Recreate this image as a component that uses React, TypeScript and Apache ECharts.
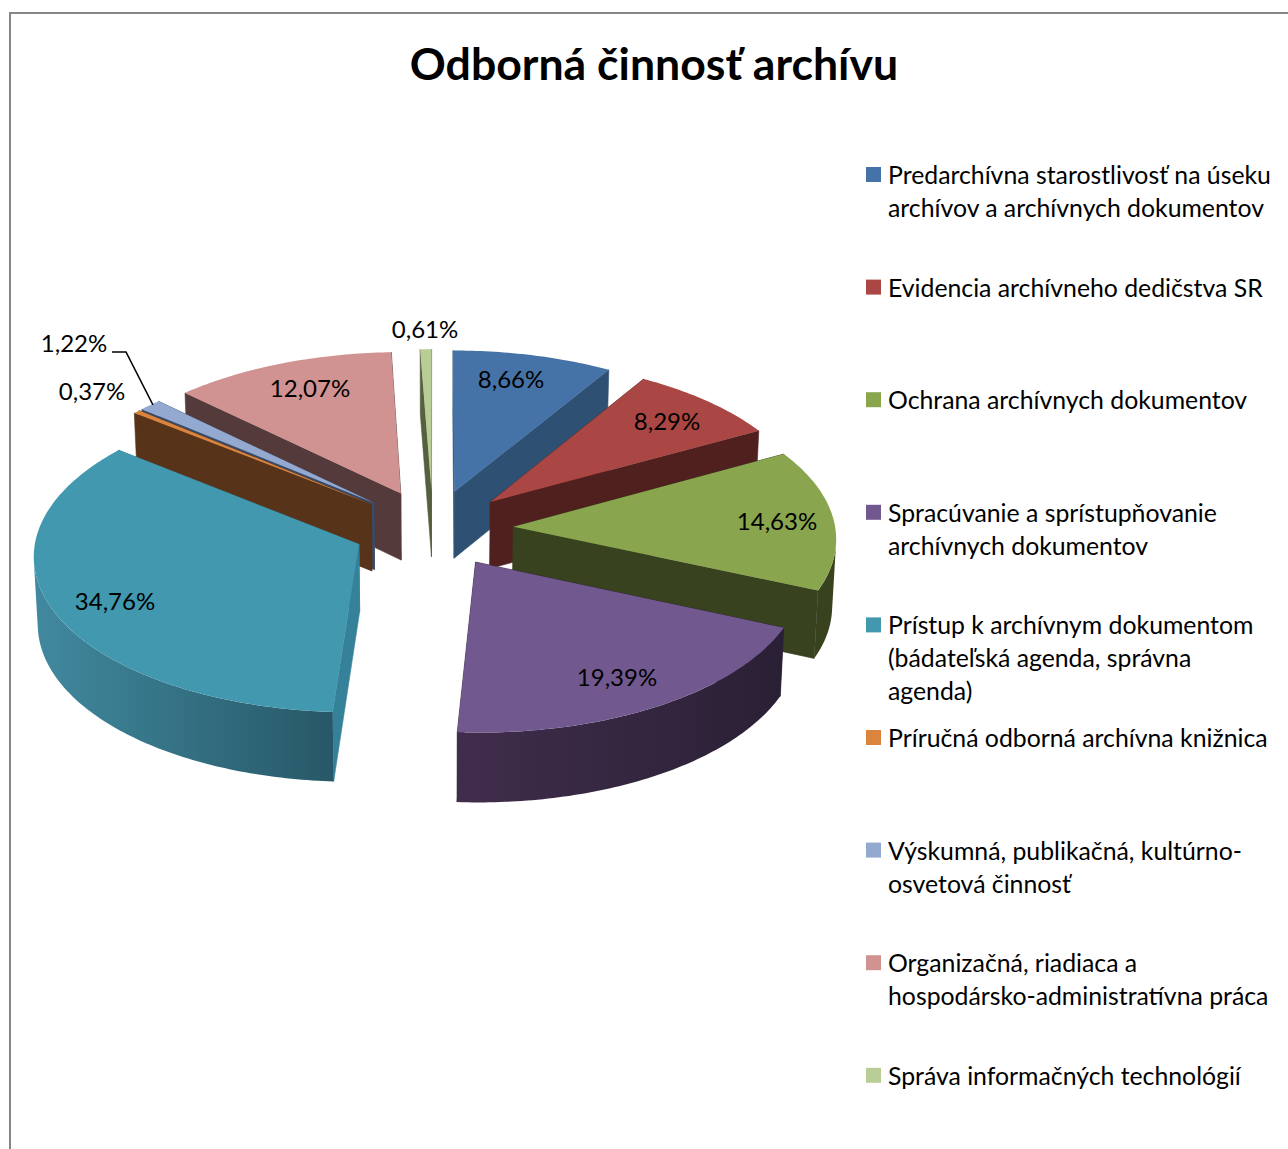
import React, { useEffect, useRef } from "react";
import * as echarts from "echarts";

const TITLE = "Odborná činnosť archívu";
const CATEGORIES = [
  "Predarchívna starostlivosť na úseku\narchívov a archívnych dokumentov",
  "Evidencia archívneho dedičstva SR",
  "Ochrana archívnych dokumentov",
  "Spracúvanie a sprístupňovanie\narchívnych dokumentov",
  "Prístup k archívnym dokumentom\n(bádateľská agenda, správna\nagenda)",
  "Príručná odborná archívna knižnica",
  "Výskumná, publikačná, kultúrno-\nosvetová činnosť",
  "Organizačná, riadiaca a\nhospodársko-administratívna práca",
  "Správa informačných technológií",
];
const SHARES = [8.66, 8.29, 14.63, 19.39, 34.76, 0.37, 1.22, 12.07, 0.61];

const TOP_COLORS = ["#4572A7", "#AA4643", "#89A54E", "#71588F", "#4198AF", "#DB843D", "#93A9CF", "#D19392", "#B9CD96"];
const CUT_COLORS = ["#2E5073", "#50201E", "#38421E", "#2E2339", "#36819A", "#57331A", "#3A4B68", "#543A3B", "#56603F"];
const WALL_LEFT = ["#2E5073", "#50201E", "#38421E", "#402D4C", "#41899F", "#57331A", "#3A4B68", "#543A3B", "#56603F"];
const WALL_RIGHT = ["#2E5073", "#50201E", "#38421E", "#2A2035", "#275867", "#57331A", "#3A4B68", "#543A3B", "#56603F"];
const LABEL_CENTERS = [[511, 378], [667, 420], [777, 520], [617, 676], [115, 600], [92, 390], [74, 342], [310, 387], [425, 328]];

const FONT = "Lato";
const CX = 433, CY = 528.5, RX = 322, RY = 155, PERSP = 0.0648, EXPLODE = 0.25, DEPTH = 67;
const LEGEND_Y0 = 174.5, LEGEND_STEP = 112.6, LINE_H = 33;

const starts: number[] = [];
SHARES.reduce((acc, s, i) => ((starts[i] = acc), acc + s), 0);
const midDepth = (i: number) => Math.cos(((starts[i] + SHARES[i] / 2) / 100) * 2 * Math.PI);
const drawOrder = SHARES.map((_, i) => i).sort((a, b) => midDepth(b) - midDepth(a));

function project(ux: number, uy: number, bottom: boolean) {
  const s = 1 / (1 + PERSP * uy);
  let x = CX + ux * RX * s;
  let y = CY - uy * RY * s;
  if (bottom) {
    x = CX + (x - CX) * 0.99;
    y += DEPTH * Math.sqrt(s);
  }
  return [x, y];
}

function renderSlice(params: any, api: any) {
  const share = api.value(0);
  const start = api.value(1);
  const i = params.seriesIndex;
  const a0 = (start / 100) * 2 * Math.PI;
  const a1 = ((start + share) / 100) * 2 * Math.PI;
  const am = (a0 + a1) / 2;
  const ox = Math.sin(am) * EXPLODE;
  const oy = Math.cos(am) * EXPLODE;
  const steps = Math.max(4, Math.ceil(share * 4));
  const arcTop: number[][] = [];
  const arcBot: number[][] = [];
  for (let k = 0; k <= steps; k++) {
    const a = a0 + ((a1 - a0) * k) / steps;
    const ux = ox + Math.sin(a);
    const uy = oy + Math.cos(a);
    arcTop.push(project(ux, uy, false));
    arcBot.push(project(ux, uy, true));
  }
  const apexT = project(ox, oy, false);
  const apexB = project(ox, oy, true);
  const cut = (t: number[], b: number[]) => ({
    type: "polygon",
    shape: { points: [apexT, t, b, apexB] },
    style: { fill: CUT_COLORS[i], stroke: CUT_COLORS[i], lineWidth: 0.6 },
  });
  // Only the part of the rim that faces the viewer is a wall; joining it at the
  // silhouette keeps the tangent edge straight.
  const facing = (k: number) => {
    const dx = arcTop[k + 1][0] - arcTop[k][0];
    const dy = arcTop[k + 1][1] - arcTop[k][1];
    const hx = arcBot[k][0] - arcTop[k][0];
    const hy = arcBot[k][1] - arcTop[k][1];
    return dx * hy - dy * hx < 0;
  };
  const visTop: number[][] = [];
  const visBot: number[][] = [];
  for (let k = 0; k <= steps; k++) {
    if ((k < steps && facing(k)) || (k > 0 && facing(k - 1))) {
      visTop.push(arcTop[k]);
      visBot.push(arcBot[k]);
    }
  }
  const children: any[] = [cut(arcTop[0], arcBot[0]), cut(arcTop[steps], arcBot[steps])];
  if (visTop.length > 1) {
    children.push({
      type: "polygon",
      shape: { points: [...visTop, ...visBot.reverse()] },
      style: {
        fill: new echarts.graphic.LinearGradient(0, 0, 1, 0, [
          { offset: 0, color: WALL_LEFT[i] },
          { offset: 1, color: WALL_RIGHT[i] },
        ]),
      },
    });
  }
  children.push(
    {
      type: "polygon",
      shape: { points: [apexT, ...arcTop] },
      style: { fill: TOP_COLORS[i] },
    },
    {
      type: "text",
      x: LABEL_CENTERS[i][0],
      y: LABEL_CENTERS[i][1],
      z2: 50,
      style: {
        text: share.toFixed(2).replace(".", ",") + "%",
        fill: "#000",
        font: `24px ${FONT}`,
        align: "center",
        verticalAlign: "middle",
      },
    }
  );
  if (share === 1.22) {
    children.push({
      type: "polyline",
      shape: { points: [[112, 352], [126, 352], [153, 405]] },
      style: { stroke: "#000", lineWidth: 1.6, fill: "none" },
    });
  }
  return { type: "group", children };
}

export default function App() {
  const ref = useRef<HTMLDivElement>(null);
  useEffect(() => {
    document.body.style.margin = "0";
    const chart = echarts.init(ref.current!, null, { renderer: "svg" });
    chart.setOption({
      animation: false,
      backgroundColor: "#fff",
      title: {
        text: TITLE,
        left: 649,
        top: 35,
        textAlign: "center",
        textStyle: { fontFamily: FONT, fontWeight: "bold", fontSize: 44.6, color: "#000" },
      },
      legend: CATEGORIES.map((name, i) => {
        const lines = name.split("\n").length;
        const boxH = LINE_H * (2 * lines - 1);
        return {
          data: [name],
          left: 866,
          top: LEGEND_Y0 + i * LEGEND_STEP - boxH / 2,
          padding: 0,
          itemWidth: 15,
          itemHeight: 15,
          selectedMode: false,
          icon: "rect",
          formatter: (n: string) => "\n".repeat(lines - 1) + n,
          textStyle: {
            fontFamily: FONT,
            fontSize: 24.8,
            color: "#000",
            lineHeight: LINE_H,
            padding: [0, 0, 0, 2],
          },
        };
      }),
      graphic: [
        {
          type: "rect",
          shape: { x: 10, y: 13, width: 1400, height: 1400 },
          style: { fill: "none", stroke: "#868686", lineWidth: 2 },
          silent: true,
        },
      ],
      series: CATEGORIES.map((name, i) => ({
        type: "custom",
        name,
        coordinateSystem: "none",
        z: 2 + drawOrder.indexOf(i),
        itemStyle: { color: TOP_COLORS[i] },
        data: [[SHARES[i], starts[i]]],
        renderItem: renderSlice,
      })),
    });
    return () => chart.dispose();
  }, []);
  return <div ref={ref} style={{ position: "absolute", left: 0, top: 0, width: 1288, height: 1149 }} />;
}
